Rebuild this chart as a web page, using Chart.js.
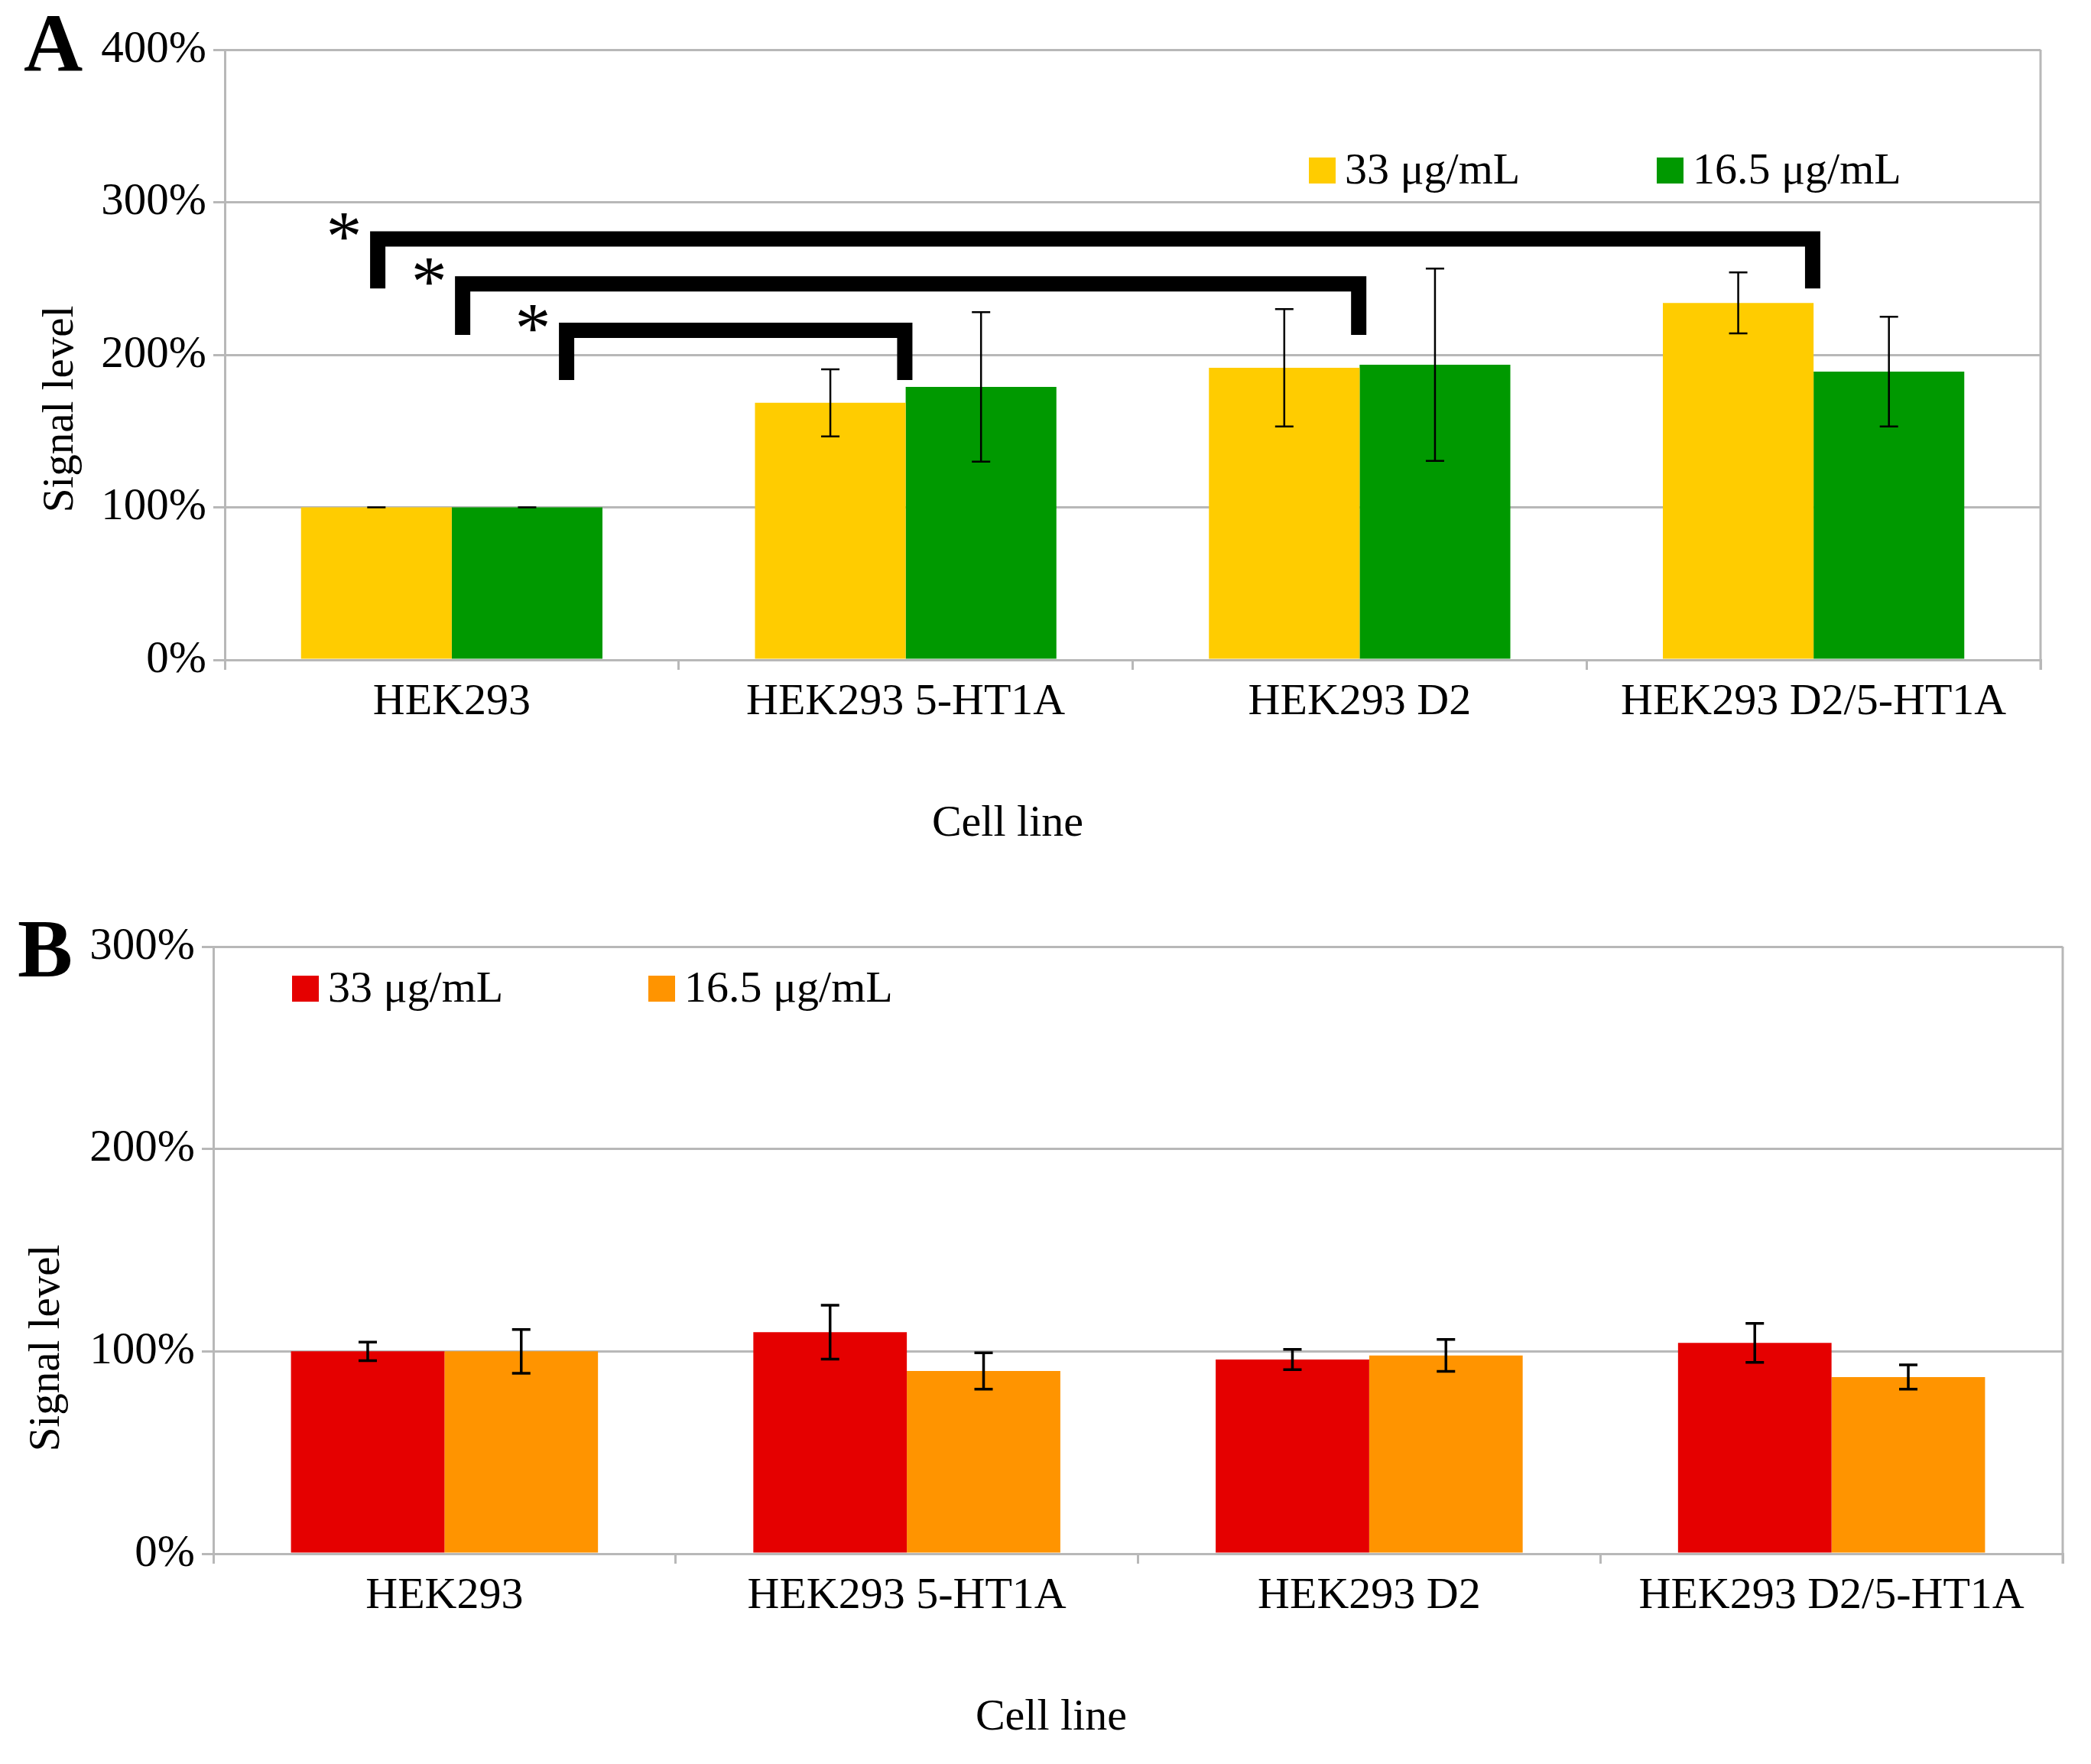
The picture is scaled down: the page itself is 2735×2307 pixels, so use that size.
<!DOCTYPE html>
<html>
<head>
<meta charset="utf-8">
<script src="https://cdn.jsdelivr.net/npm/chart.js@4.4.1/dist/chart.umd.min.js"></script>
<style>
  html, body { margin: 0; padding: 0; background: #fff; }
  #wrap { position: relative; width: 2735px; height: 2307px; }
  canvas { position: absolute; left: 0; }
</style>
</head>
<body>
<div id="wrap">
  <canvas id="chartA" width="2735" height="1150" style="top:0"></canvas>
  <canvas id="chartB" width="2735" height="1157" style="top:1150px"></canvas>
</div>
<script>
// categories and series
const cellLines = ['HEK293', 'HEK293 5-HT1A', 'HEK293 D2', 'HEK293 D2/5-HT1A'];
const doseLabels = ['33 μg/mL', '16.5 μg/mL'];

// panel A (signal level, % of HEK293)
const a33 = [100, 168.5, 191.5, 234];
const a33Err = [0, 22, 38.5, 20];
const a16 = [100, 179, 193.5, 189];
const a16Err = [0, 49, 63, 36];
const aTicks = [0, 100, 200, 300, 400];

// significance brackets in panel A: [from category, to category], bar level, foot level
const bracketPairs = [[0, 3], [0, 2], [0, 1]];
const bracketLevel = [276, 246.5, 216];
const bracketFoot = [243.5, 213, 183.5];

// panel B
const b33 = [100, 109.5, 96, 104.2];
const b33Err = [4.6, 13.3, 5, 9.6];
const b16 = [100, 90.3, 98, 87.3];
const b16Err = [10.8, 9, 7.9, 6];
const bTicks = [0, 100, 200, 300];

const FONT = '"Liberation Serif", "Times New Roman", serif';
const GRID = '#b8b8b8';

function errorBars(errs, capHalf, lw) {
  return {
    id: 'errorBars',
    afterDatasetsDraw(chart) {
      const ctx = chart.ctx;
      const y = chart.scales.y;
      ctx.save();
      ctx.strokeStyle = '#000';
      ctx.lineWidth = lw;
      chart.data.datasets.forEach((ds, i) => {
        chart.getDatasetMeta(i).data.forEach((bar, j) => {
          const v = ds.data[j], e = errs[i][j];
          const top = y.getPixelForValue(v + e);
          const bot = y.getPixelForValue(v - e);
          ctx.beginPath();
          ctx.moveTo(bar.x, top); ctx.lineTo(bar.x, bot);
          ctx.moveTo(bar.x - capHalf, top); ctx.lineTo(bar.x + capHalf, top);
          ctx.moveTo(bar.x - capHalf, bot); ctx.lineTo(bar.x + capHalf, bot);
          ctx.stroke();
        });
      });
      ctx.restore();
    }
  };
}

// legend, panel letter, axis titles and right frame
function decor(cfg) {
  return {
    id: 'decor',
    afterDraw(chart) {
      const ctx = chart.ctx;
      const area = chart.chartArea;
      ctx.save();
      // right frame line
      ctx.strokeStyle = GRID;
      ctx.lineWidth = 3;
      ctx.beginPath();
      ctx.moveTo(area.right, area.top);
      ctx.lineTo(area.right, area.bottom + 13);
      ctx.stroke();

      ctx.fillStyle = '#000';
      ctx.font = 'bold ' + cfg.letterSize + 'px ' + FONT;
      ctx.textAlign = 'left';
      ctx.textBaseline = 'alphabetic';
      ctx.fillText(cfg.letter, cfg.letterX, cfg.letterY);

      ctx.font = '58px ' + FONT;
      ctx.textAlign = 'center';
      ctx.textBaseline = 'middle';
      ctx.fillText('Cell line', cfg.xTitle[0], cfg.xTitle[1]);

      ctx.save();
      ctx.translate(cfg.yTitle[0], cfg.yTitle[1]);
      ctx.rotate(-Math.PI / 2);
      ctx.font = '57px ' + FONT;
      ctx.fillText('Signal level', 0, 0);
      ctx.restore();

      // legend
      ctx.font = '58px ' + FONT;
      ctx.textAlign = 'left';
      chart.data.datasets.forEach((ds, i) => {
        const bx = cfg.legendX[i];
        ctx.fillStyle = ds.backgroundColor;
        ctx.fillRect(bx, cfg.legendY - 17, 35, 34);
        ctx.fillStyle = '#000';
        ctx.fillText(ds.label, bx + 47, cfg.legendY + 2);
      });
      ctx.restore();
    }
  };
}

const brackets = {
  id: 'brackets',
  afterDraw(chart) {
    const ctx = chart.ctx;
    const x = chart.scales.x, y = chart.scales.y;
    const cw = x.getPixelForValue(1) - x.getPixelForValue(0);
    const leftShift = [-0.163, 0.024, 0.253];
    ctx.save();
    ctx.strokeStyle = '#000';
    ctx.lineWidth = 20;
    ctx.lineJoin = 'miter';
    ctx.lineCap = 'butt';
    bracketPairs.forEach(([from, to], k) => {
      const x1 = x.getPixelForValue(from) + leftShift[k] * cw;
      const x2 = x.getPixelForValue(to) - 0.002 * cw;
      const yt = y.getPixelForValue(bracketLevel[k]);
      const yf = y.getPixelForValue(bracketFoot[k]);
      ctx.beginPath();
      ctx.moveTo(x1, yf);
      ctx.lineTo(x1, yt);
      ctx.lineTo(x2, yt);
      ctx.lineTo(x2, yf);
      ctx.stroke();
      // asterisk
      ctx.fillStyle = '#000';
      ctx.font = '94px ' + FONT;
      const m = ctx.measureText('*');
      const cx = x1 - 44, cy = yt - 16;
      ctx.textAlign = 'center';
      ctx.textBaseline = 'alphabetic';
      ctx.fillText('*', cx, cy + (m.actualBoundingBoxAscent - m.actualBoundingBoxDescent) / 2);
    });
    ctx.restore();
  }
};

function makeChart(id, s1, s2, errs, colors, ticks, lay, extraPlugins) {
  return new Chart(document.getElementById(id), {
    type: 'bar',
    data: {
      labels: cellLines,
      datasets: [
        { label: doseLabels[0], data: s1, backgroundColor: colors[0], borderWidth: 0 },
        { label: doseLabels[1], data: s2, backgroundColor: colors[1], borderWidth: 0 }
      ]
    },
    options: {
      responsive: false,
      animation: false,
      devicePixelRatio: 1,
      layout: { padding: { top: lay.top, right: lay.right, left: 0, bottom: 0 } },
      datasets: { bar: { categoryPercentage: 0.664, barPercentage: 1 } },
      plugins: { legend: { display: false }, tooltip: { enabled: false } },
      scales: {
        x: {
          afterFit: s => { s.height = lay.xHeight; },
          grid: { offset: true, drawOnChartArea: false, color: GRID, lineWidth: 3, tickLength: 13 },
          border: { color: GRID, width: 3 },
          ticks: { color: '#000', padding: 8, font: { family: FONT, size: 58 } }
        },
        y: {
          min: ticks[0],
          max: ticks[ticks.length - 1],
          afterFit: s => { s.width = lay.yWidth; },
          afterBuildTicks: s => { s.ticks = ticks.map(v => ({ value: v })); },
          grid: { color: GRID, lineWidth: 3, tickLength: 15 },
          border: { color: GRID, width: 3 },
          ticks: { color: '#000', padding: 9, font: { family: FONT, size: 59 }, callback: v => v + '%' }
        }
      }
    },
    plugins: [errorBars(errs, 12, lay.errWidth)].concat(extraPlugins)
  });
}

makeChart('chartA', a33, a16, [a33Err, a16Err], ['#ffcc00', '#009900'], aTicks,
  { top: 65, right: 66, xHeight: 287, yWidth: 294, errWidth: 2.5 },
  [brackets, decor({
    letter: 'A', letterSize: 107, letterX: 31, letterY: 93,
    xTitle: [1318, 1078], yTitle: [80, 535],
    legendX: [1712, 2167], legendY: 223
  })]);

makeChart('chartB', b33, b16, [b33Err, b16Err], ['#e50000', '#ff9400'], bTicks,
  { top: 88, right: 37, xHeight: 275, yWidth: 279, errWidth: 3.5 },
  [decor({
    letter: 'B', letterSize: 108, letterX: 23, letterY: 127,
    xTitle: [1375, 1097], yTitle: [62, 613],
    legendX: [382, 848], legendY: 143
  })]);
</script>
</body>
</html>
